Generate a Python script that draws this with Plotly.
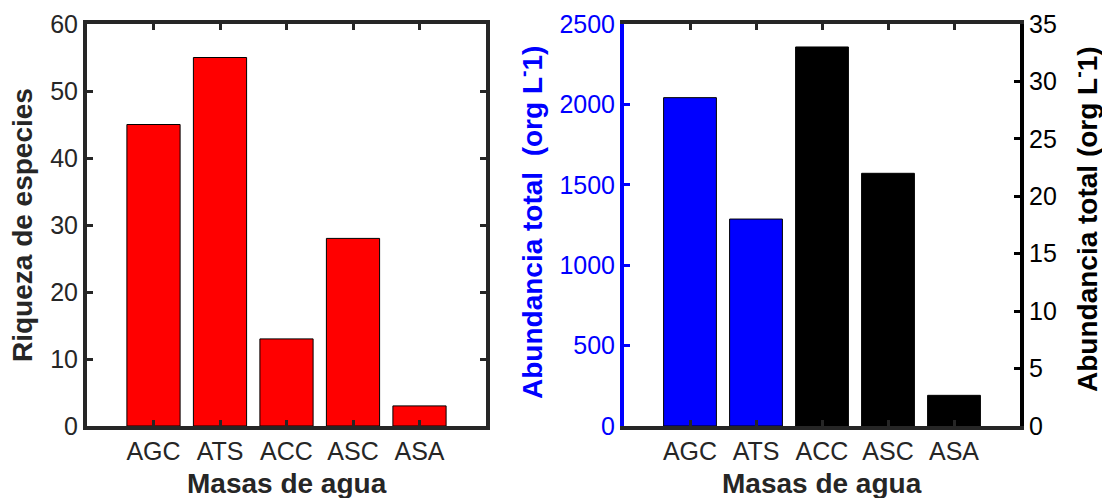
import plotly.graph_objects as go

categories = ["AGC", "ATS", "ACC", "ASC", "ASA"]
riqueza = [45, 55, 13, 28, 3]
abund_left_cats = ["AGC", "ATS"]
abund_left_vals = [2042, 1287]
abund_right_cats = ["ACC", "ASC", "ASA"]
abund_right_vals = [33.0, 22.0, 2.67]

W, H = 1102, 498
DARK = "#262626"
FONT = "Liberation Sans, Arial, sans-serif"
TICK_SIZE = 25
TITLE_SIZE = 28

def px_x(p):
    return p / W

def px_y(p):
    return (H - p) / H

fig = go.Figure()

fig.add_trace(go.Bar(x=categories, y=riqueza, xaxis="x", yaxis="y",
                     marker=dict(color="#ff0000", line=dict(color="#000000", width=1)),
                     width=0.8, showlegend=False))
fig.add_trace(go.Bar(x=abund_left_cats, y=abund_left_vals, xaxis="x2", yaxis="y2",
                     marker=dict(color="#0000ff", line=dict(color="#000000", width=1)),
                     width=0.8, showlegend=False))
fig.add_trace(go.Bar(x=abund_right_cats, y=abund_right_vals, xaxis="x2", yaxis="y3",
                     marker=dict(color="#000000", line=dict(color="#000000", width=1)),
                     width=0.8, showlegend=False))

ydom = [px_y(426), px_y(24)]
common_x = dict(type="category", categoryorder="array", categoryarray=categories,
                range=[-1, 5], showline=True, linecolor=DARK, linewidth=4,
                mirror="ticks", ticks="inside", ticklen=6, tickwidth=3, tickcolor=DARK,
                showgrid=False, zeroline=False, automargin=False,
                tickfont=dict(family=FONT, size=TICK_SIZE, color=DARK))

fig.update_layout(
    width=W, height=H, autosize=False,
    margin=dict(l=0, r=0, t=0, b=0, pad=0, autoexpand=False),
    paper_bgcolor="white", plot_bgcolor="white",
    barmode="overlay",
    xaxis=dict(domain=[px_x(87), px_x(486)], anchor="y", **common_x),
    yaxis=dict(domain=ydom, anchor="x", range=[0, 60], dtick=10,
               showline=True, linecolor=DARK, linewidth=4, mirror="ticks",
               ticks="inside", ticklen=6, tickwidth=3, tickcolor=DARK,
               showgrid=False, zeroline=False, automargin=False,
               tickfont=dict(family=FONT, size=TICK_SIZE, color=DARK)),
    xaxis2=dict(domain=[px_x(624), px_x(1020)], anchor="y2", **common_x),
    yaxis2=dict(domain=ydom, anchor="x2", range=[0, 2500], dtick=500,
                showline=True, linecolor="#0000ff", linewidth=4, mirror=False,
                ticks="inside", ticklen=6, tickwidth=3, tickcolor="#0000ff",
                showgrid=False, zeroline=False, automargin=False,
                tickfont=dict(family=FONT, size=TICK_SIZE, color="#0000ff")),
    yaxis3=dict(domain=ydom, anchor="x2", overlaying="y2", side="right",
                range=[0, 35], dtick=5,
                showline=True, linecolor="#000000", linewidth=4,
                ticks="inside", ticklen=6, tickwidth=3, tickcolor="#000000",
                showgrid=False, zeroline=False, automargin=False,
                tickfont=dict(family=FONT, size=TICK_SIZE, color="#000000")),
)

ann_font = lambda c: dict(family=FONT, size=TITLE_SIZE, color=c)
fig.add_annotation(text="<b>Riqueza de especies</b>", xref="paper", yref="paper",
                   x=px_x(23), y=px_y(225), textangle=-90, showarrow=False,
                   xanchor="center", yanchor="middle", font=ann_font(DARK))
fig.add_annotation(text="<b>Masas de agua</b>", xref="paper", yref="paper",
                   x=px_x(287), y=px_y(483), showarrow=False,
                   xanchor="center", yanchor="middle", font=ann_font(DARK))
fig.add_annotation(text="<b>Masas de agua</b>", xref="paper", yref="paper",
                   x=px_x(822), y=px_y(483), showarrow=False,
                   xanchor="center", yanchor="middle", font=ann_font(DARK))
fig.add_annotation(text="<b>Abundancia total  (org L<sup>-</sup>1)</b>", xref="paper", yref="paper",
                   x=px_x(530), y=px_y(223), textangle=-90, showarrow=False,
                   xanchor="center", yanchor="middle", font=ann_font("#0000ff"))
fig.add_annotation(text="<b>Abundancia total (org L<sup>-</sup>1)</b>", xref="paper", yref="paper",
                   x=px_x(1085), y=px_y(219), textangle=-90, showarrow=False,
                   xanchor="center", yanchor="middle", font=ann_font("#000000"))

fig.write_html("out.html")
